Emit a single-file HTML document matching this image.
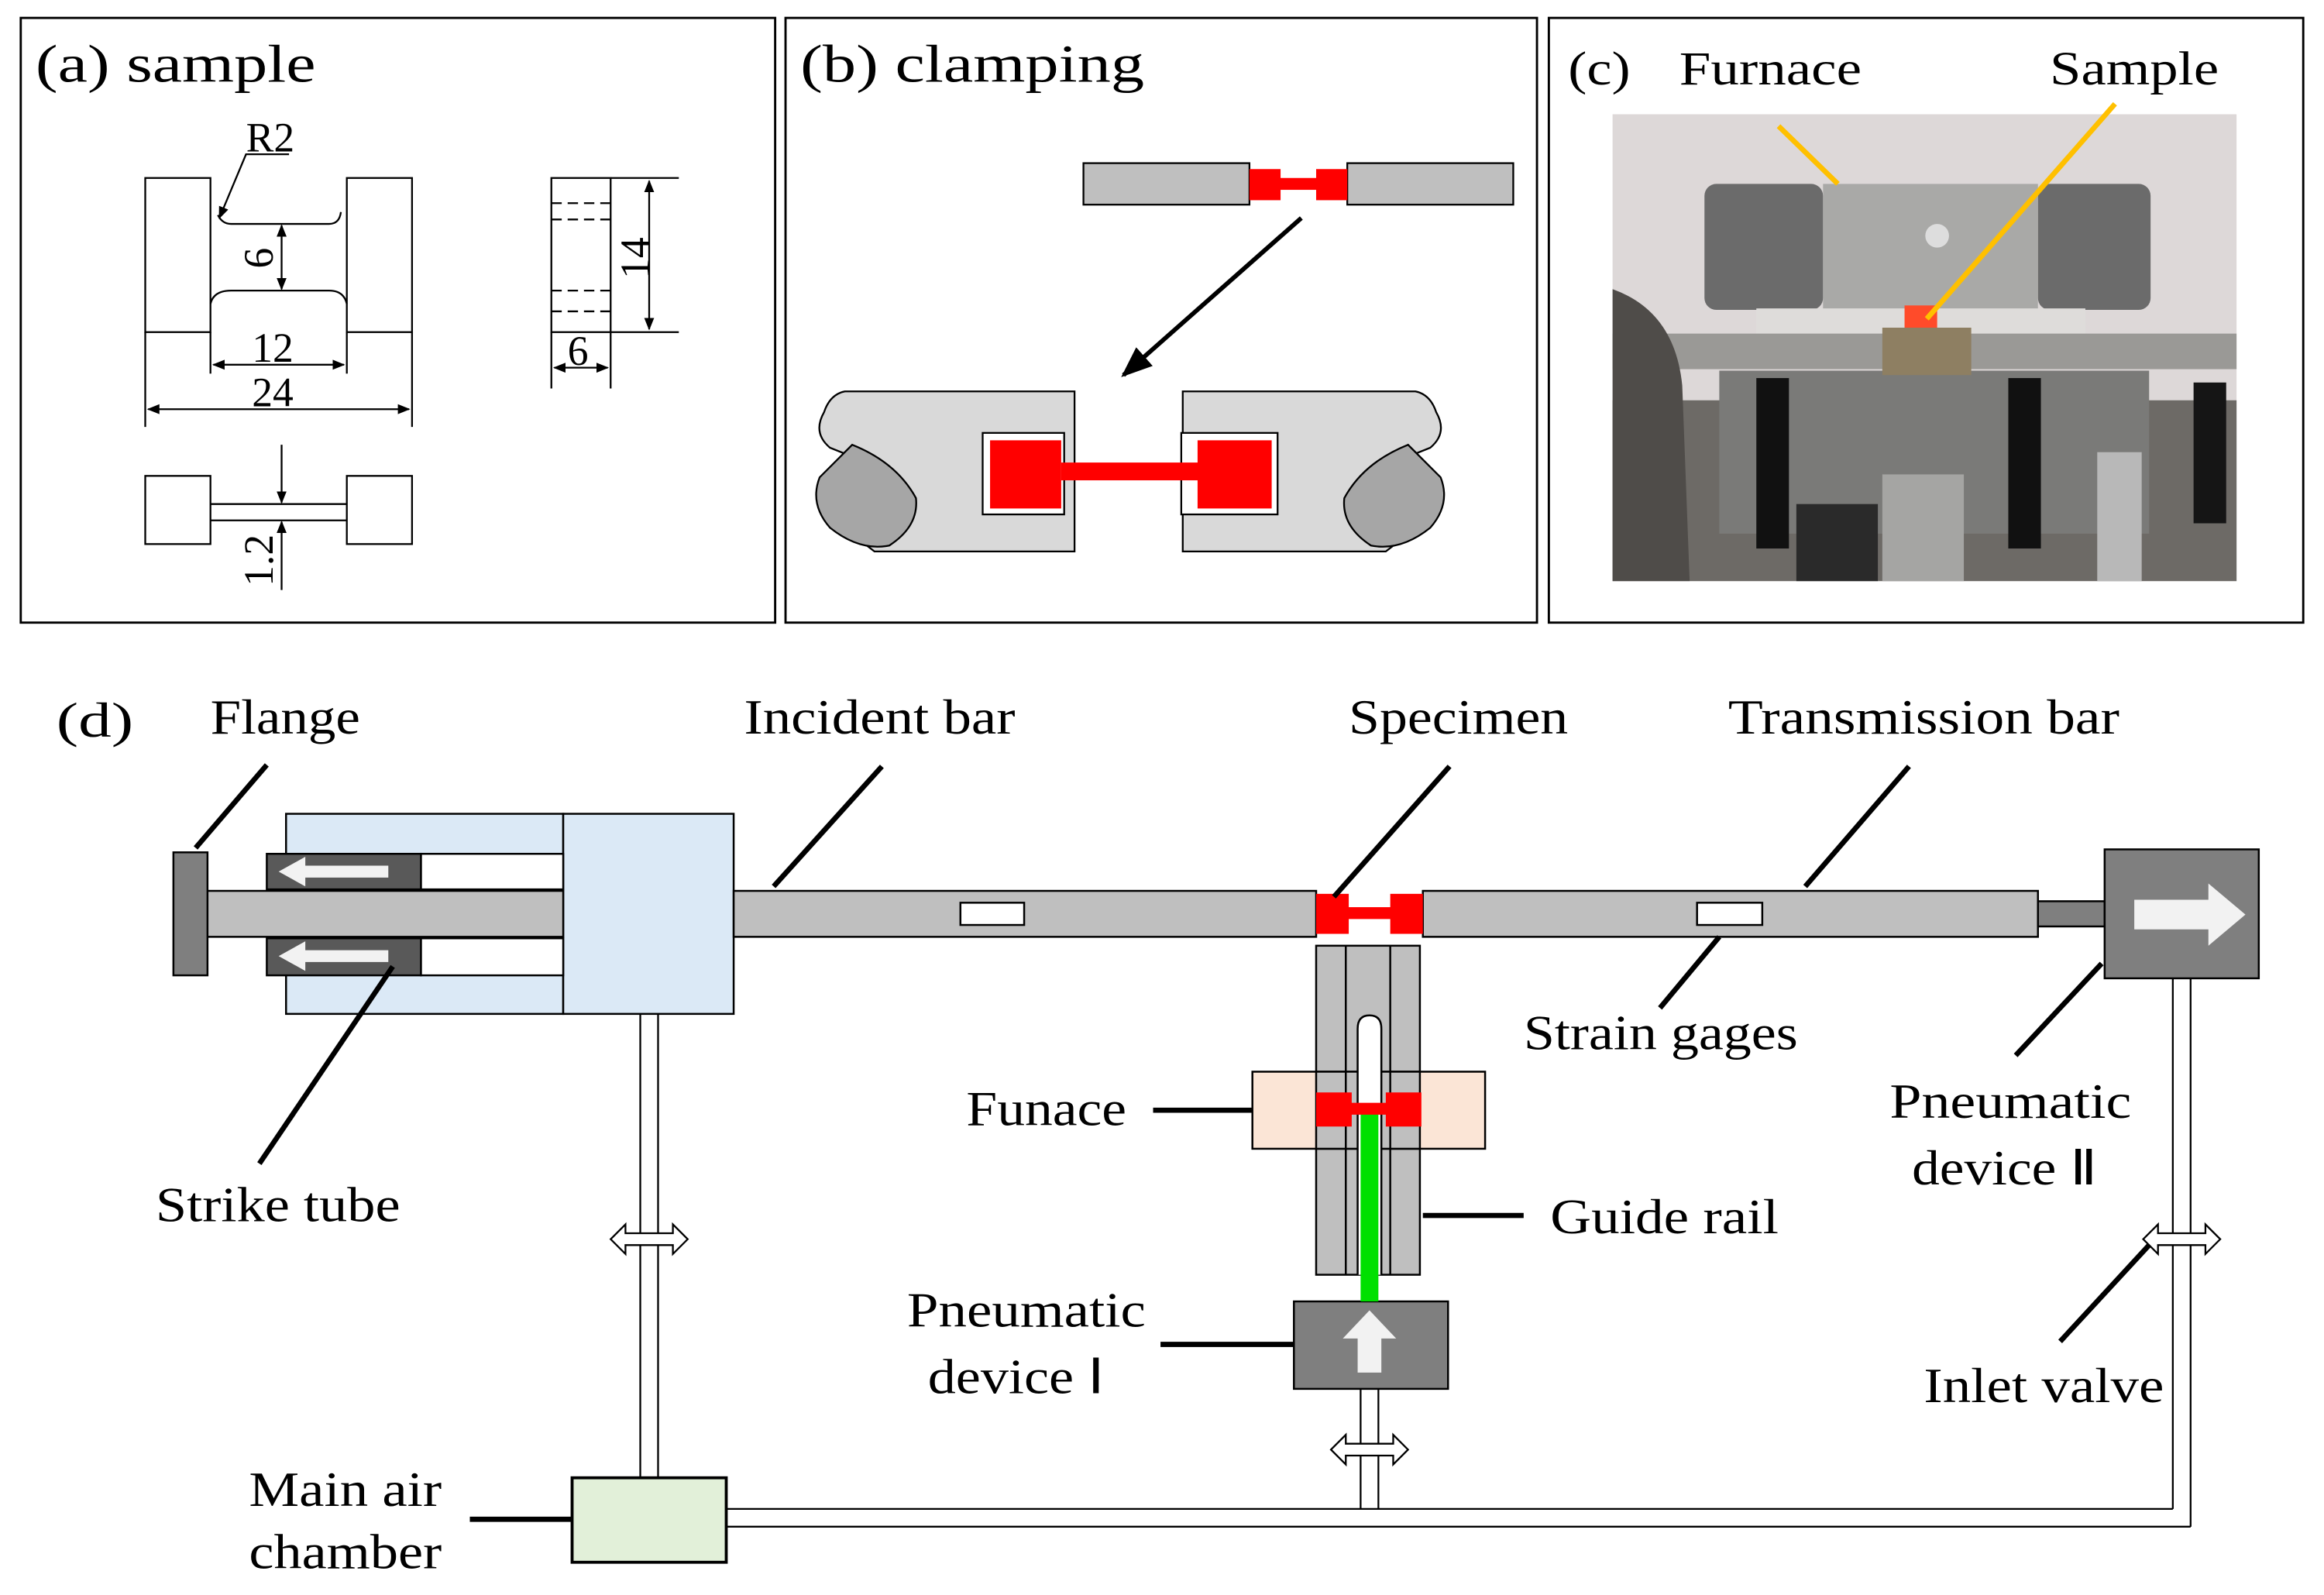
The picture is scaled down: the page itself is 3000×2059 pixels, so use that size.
<!DOCTYPE html>
<html><head><meta charset="utf-8"><style>html,body{margin:0;padding:0;background:#fff}svg{display:block}</style></head>
<body>
<svg width="3000" height="2059" viewBox="0 0 1568 1076" xmlns="http://www.w3.org/2000/svg" font-family="Liberation Serif, serif">
<defs>
<marker id="a" viewBox="0 0 10 10" refX="9" refY="5" markerWidth="7" markerHeight="7" orient="auto-start-reverse"><path d="M0,1 L10,5 L0,9 Z" fill="#000"/></marker>
</defs>
<rect width="1568" height="1076" fill="#fff"/>
<g fill="none" stroke="#000" stroke-width="1.5">
<rect x="14" y="12" width="509" height="408"/>
<rect x="530" y="12" width="507" height="408"/>
<rect x="1045" y="12" width="509" height="408"/>
</g>
<!-- (a) -->
<text x="24" y="55" font-size="36" textLength="189" lengthAdjust="spacingAndGlyphs">(a) sample</text>
<g stroke="#000" stroke-width="1.2" fill="none">
<rect x="98" y="120" width="44" height="104"/><rect x="234" y="120" width="44" height="104"/>
<path d="M147,145 Q150,151 156,151 H222 Q229,151 230,143"/>
<path d="M142,205 Q144,196 156,196 H222 Q232,196 234,205"/>
<line x1="98" y1="224" x2="98" y2="288"/><line x1="278" y1="224" x2="278" y2="288"/>
<line x1="142" y1="224" x2="142" y2="252"/><line x1="234" y1="224" x2="234" y2="252"/>
<line x1="144" y1="246" x2="232" y2="246" marker-start="url(#a)" marker-end="url(#a)"/>
<line x1="100" y1="276" x2="276" y2="276" marker-start="url(#a)" marker-end="url(#a)"/>
<line x1="190" y1="152" x2="190" y2="195" marker-start="url(#a)" marker-end="url(#a)"/>
<polyline points="195,104 166,104 148,147" marker-end="url(#a)"/>
<rect x="372" y="120" width="40" height="104"/>
<line x1="412" y1="120" x2="458" y2="120"/><line x1="412" y1="224" x2="458" y2="224"/>
<g stroke-dasharray="7,4"><line x1="372" y1="137" x2="412" y2="137"/><line x1="372" y1="148" x2="412" y2="148"/><line x1="372" y1="196" x2="412" y2="196"/><line x1="372" y1="210" x2="412" y2="210"/></g>
<line x1="438" y1="122" x2="438" y2="222" marker-start="url(#a)" marker-end="url(#a)"/>
<line x1="372" y1="224" x2="372" y2="262"/><line x1="412" y1="224" x2="412" y2="262"/>
<line x1="374" y1="248" x2="410" y2="248" marker-start="url(#a)" marker-end="url(#a)"/>
<rect x="98" y="321" width="44" height="46"/><rect x="234" y="321" width="44" height="46"/>
<line x1="142" y1="340" x2="234" y2="340"/><line x1="142" y1="351" x2="234" y2="351"/>
<line x1="190" y1="300" x2="190" y2="339" marker-end="url(#a)"/>
<line x1="190" y1="398" x2="190" y2="352" marker-end="url(#a)"/>
</g>
<g font-size="28">
<text x="166" y="102">R2</text>
<text x="170" y="244">12</text>
<text x="170" y="274">24</text>
<text x="383" y="246">6</text>
<text transform="translate(184,174) rotate(-90)" text-anchor="middle">6</text>
<text transform="translate(438,174) rotate(-90)" text-anchor="middle">14</text>
<text transform="translate(184,378) rotate(-90)" text-anchor="middle">1.2</text>
</g>
<!-- (b) -->
<text x="540" y="55" font-size="36" textLength="232" lengthAdjust="spacingAndGlyphs">(b) clamping</text>
<g stroke="#000" stroke-width="1.2">
<rect x="731" y="110" width="112" height="28" fill="#bfbfbf"/>
<rect x="909" y="110" width="112" height="28" fill="#bfbfbf"/>
</g>
<g fill="#f00"><rect x="843" y="114" width="21" height="21"/><rect x="888" y="114" width="21" height="21"/><rect x="862" y="120" width="28" height="8"/></g>
<line x1="878" y1="147" x2="758" y2="253" stroke="#000" stroke-width="3" marker-end="url(#a)"/>
<g stroke="#000" stroke-width="1.2">
<path d="M570,264 H725 V372 H590 L555,345 Q548,333 562,327 L600,318 L560,302 Q548,292 556,278 Q560,266 570,264 Z" fill="#d9d9d9"/>
<path d="M575,300 Q605,312 618,336 Q620,355 600,368 Q580,372 560,356 Q546,340 553,322 Z" fill="#a6a6a6"/>
<path d="M955,264 H798 V372 H935 L970,345 Q977,333 963,327 L925,318 L965,302 Q977,292 969,278 Q965,266 955,264 Z" fill="#d9d9d9"/>
<path d="M950,300 Q920,312 907,336 Q905,355 925,368 Q945,372 965,356 Q979,340 972,322 Z" fill="#a6a6a6"/>
<rect x="663" y="292" width="55" height="55" fill="#fff"/>
<rect x="797" y="292" width="65" height="55" fill="#fff"/>
</g>
<g fill="#f00"><rect x="668" y="297" width="48" height="46"/><rect x="808" y="297" width="50" height="46"/><rect x="716" y="312" width="94" height="12"/></g>
<!-- (c) -->
<g font-size="32"><text x="1058" y="57" textLength="42" lengthAdjust="spacingAndGlyphs">(c)</text><text x="1133" y="57" textLength="123" lengthAdjust="spacingAndGlyphs">Furnace</text><text x="1383" y="57" textLength="114" lengthAdjust="spacingAndGlyphs">Sample</text></g>
<rect x="1088" y="77" width="421" height="315" fill="#ddd8d8"/>
<rect x="1088" y="270" width="421" height="122" fill="#6d6a66"/>
<rect x="1150" y="124" width="80" height="85" fill="#6b6b6b" rx="8"/>
<rect x="1375" y="124" width="76" height="85" fill="#6b6b6b" rx="8"/>
<rect x="1230" y="124" width="145" height="86" fill="#a9a9a7"/>
<rect x="1185" y="208" width="222" height="28" fill="#dedcda"/>
<rect x="1285" y="206" width="22" height="20" fill="#ff4b2a"/>
<circle cx="1307" cy="159" r="8" fill="#ddd"/>
<rect x="1160" y="250" width="290" height="110" fill="#7a7a78"/>
<rect x="1088" y="225" width="421" height="24" fill="#9a9996"/>
<rect x="1270" y="221" width="60" height="32" fill="#8e7f62"/>
<path d="M1088,195 Q1130,210 1135,260 L1140,392 H1088 Z" fill="#4f4c49"/>
<rect x="1185" y="255" width="22" height="115" fill="#111"/>
<rect x="1355" y="255" width="22" height="115" fill="#111"/>
<rect x="1480" y="258" width="22" height="95" fill="#151515"/>
<rect x="1270" y="320" width="55" height="72" fill="#a5a5a3"/>
<rect x="1212" y="340" width="55" height="52" fill="#2a2a2a"/>
<rect x="1415" y="305" width="30" height="87" fill="#b8b8b8"/>
<g stroke="#ffc000" stroke-width="3.5"><line x1="1200" y1="85" x2="1240" y2="124"/><line x1="1427" y1="70" x2="1300" y2="215"/></g>
<!-- (d) -->
<g font-size="33" lengthAdjust="spacingAndGlyphs">
<text x="38" y="497" textLength="52" lengthAdjust="spacingAndGlyphs">(d)</text>
<text x="142" y="495" textLength="101" lengthAdjust="spacingAndGlyphs">Flange</text>
<text x="502" y="495" textLength="183" lengthAdjust="spacingAndGlyphs">Incident bar</text>
<text x="910" y="495" textLength="148" lengthAdjust="spacingAndGlyphs">Specimen</text>
<text x="1166" y="495" textLength="264" lengthAdjust="spacingAndGlyphs">Transmission bar</text>
<text x="1028" y="708" textLength="185" lengthAdjust="spacingAndGlyphs">Strain gages</text>
<text x="652" y="759" textLength="108" lengthAdjust="spacingAndGlyphs">Funace</text>
<text x="1046" y="832" textLength="154" lengthAdjust="spacingAndGlyphs">Guide rail</text>
<text x="1275" y="754" textLength="163" lengthAdjust="spacingAndGlyphs">Pneumatic</text>
<text x="1290" y="799" textLength="125" lengthAdjust="spacingAndGlyphs">device Ⅱ</text>
<text x="105" y="824" textLength="165" lengthAdjust="spacingAndGlyphs">Strike tube</text>
<text x="612" y="895" textLength="161" lengthAdjust="spacingAndGlyphs">Pneumatic</text>
<text x="626" y="940" textLength="119" lengthAdjust="spacingAndGlyphs">device Ⅰ</text>
<text x="1298" y="946" textLength="162" lengthAdjust="spacingAndGlyphs">Inlet valve</text>
<text x="168" y="1016" textLength="130" lengthAdjust="spacingAndGlyphs">Main air</text>
<text x="168" y="1058" textLength="130" lengthAdjust="spacingAndGlyphs">chamber</text>
</g>
<g stroke="#000" stroke-width="1.3">
<rect x="193" y="549" width="187" height="135" fill="#dbe9f6"/>
<rect x="380" y="549" width="115" height="135" fill="#dbe9f6"/>
<rect x="284" y="576" width="96" height="24" fill="#fff"/>
<rect x="284" y="633" width="96" height="25" fill="#fff"/>
<rect x="180" y="576" width="104" height="24" fill="#595959"/>
<rect x="180" y="633" width="104" height="25" fill="#595959"/>
<rect x="138" y="601" width="242" height="31" fill="#bfbfbf"/>
<rect x="117" y="575" width="23" height="83" fill="#7f7f7f"/>
<rect x="495" y="601" width="393" height="31" fill="#bfbfbf"/>
<rect x="648" y="609" width="43" height="15" fill="#fff"/>
<rect x="960" y="601" width="415" height="31" fill="#bfbfbf"/>
<rect x="1145" y="609" width="44" height="15" fill="#fff"/>
<rect x="1375" y="608" width="45" height="17" fill="#7f7f7f"/>
<rect x="1420" y="573" width="104" height="87" fill="#7f7f7f"/>
<rect x="888" y="638" width="70" height="222" fill="#bfbfbf"/>
<line x1="908" y1="638" x2="908" y2="860"/><line x1="938" y1="638" x2="938" y2="860"/>
<rect x="845" y="723" width="157" height="52" fill="#fbe5d6"/>
<rect x="888" y="723" width="70" height="52" fill="#bfbfbf"/>
<line x1="908" y1="723" x2="908" y2="775"/><line x1="938" y1="723" x2="938" y2="775"/>
<path d="M916,860 V694 Q916,685 924,685 Q932,685 932,694 V860" fill="#fff"/>
<rect x="873" y="878" width="104" height="59" fill="#7f7f7f"/>
<rect x="386" y="997" width="104" height="57" fill="#e2f0d9" stroke-width="2"/>
</g>
<rect x="918" y="750" width="12" height="128" fill="#00e000"/>
<g fill="#f00"><rect x="888" y="603" width="22" height="27"/><rect x="938" y="603" width="22" height="27"/><rect x="908" y="612" width="32" height="8"/>
<rect x="888" y="737" width="24" height="23"/><rect x="935" y="737" width="24" height="23"/><rect x="910" y="744" width="27" height="8"/></g>
<g fill="#f2f2f2">
<path d="M188,588 L206,578 V584 H262 V592 H206 V598 Z"/>
<path d="M188,645 L206,635 V641 H262 V649 H206 V655 Z"/>
<path d="M1515,617 L1490,596 V607 H1440 V627 H1490 V638 Z"/>
<path d="M924,884 L942,903 H932 V926 H916 V903 H906 Z"/>
</g>
<!-- pipes -->
<g stroke="#000" stroke-width="1.2" fill="none">
<line x1="432" y1="684" x2="432" y2="997"/><line x1="444" y1="684" x2="444" y2="997"/>
<line x1="918" y1="937" x2="918" y2="1018"/><line x1="930" y1="937" x2="930" y2="1018"/>
<line x1="1466" y1="660" x2="1466" y2="1018"/><line x1="1478" y1="660" x2="1478" y2="1030"/>
<line x1="490" y1="1018" x2="1466" y2="1018"/><line x1="490" y1="1030" x2="1478" y2="1030"/>
</g>
<g fill="#fff" stroke="#000" stroke-width="1.2">
<path d="M412,836 L422,826 V832 H454 V826 L464,836 L454,846 V840 H422 V846 Z"/>
<path d="M898,978 L908,968 V974 H940 V968 L950,978 L940,988 V982 H908 V988 Z"/>
<path d="M1446,836 L1456,826 V832 H1488 V826 L1498,836 L1488,846 V840 H1456 V846 Z"/>
</g>
<g stroke="#000" stroke-width="3.5" fill="none">
<line x1="132" y1="572" x2="180" y2="516"/>
<line x1="522" y1="598" x2="595" y2="517"/>
<line x1="900" y1="605" x2="978" y2="517"/>
<line x1="1218" y1="598" x2="1288" y2="517"/>
<line x1="1120" y1="680" x2="1160" y2="632"/>
<line x1="1360" y1="712" x2="1418" y2="650"/>
<line x1="175" y1="785" x2="265" y2="652"/>
<line x1="778" y1="749" x2="845" y2="749"/>
<line x1="960" y1="820" x2="1028" y2="820"/>
<line x1="783" y1="907" x2="873" y2="907"/>
<line x1="1390" y1="905" x2="1450" y2="840"/>
<line x1="317" y1="1025" x2="386" y2="1025"/>
</g>
</svg>
</body></html>
